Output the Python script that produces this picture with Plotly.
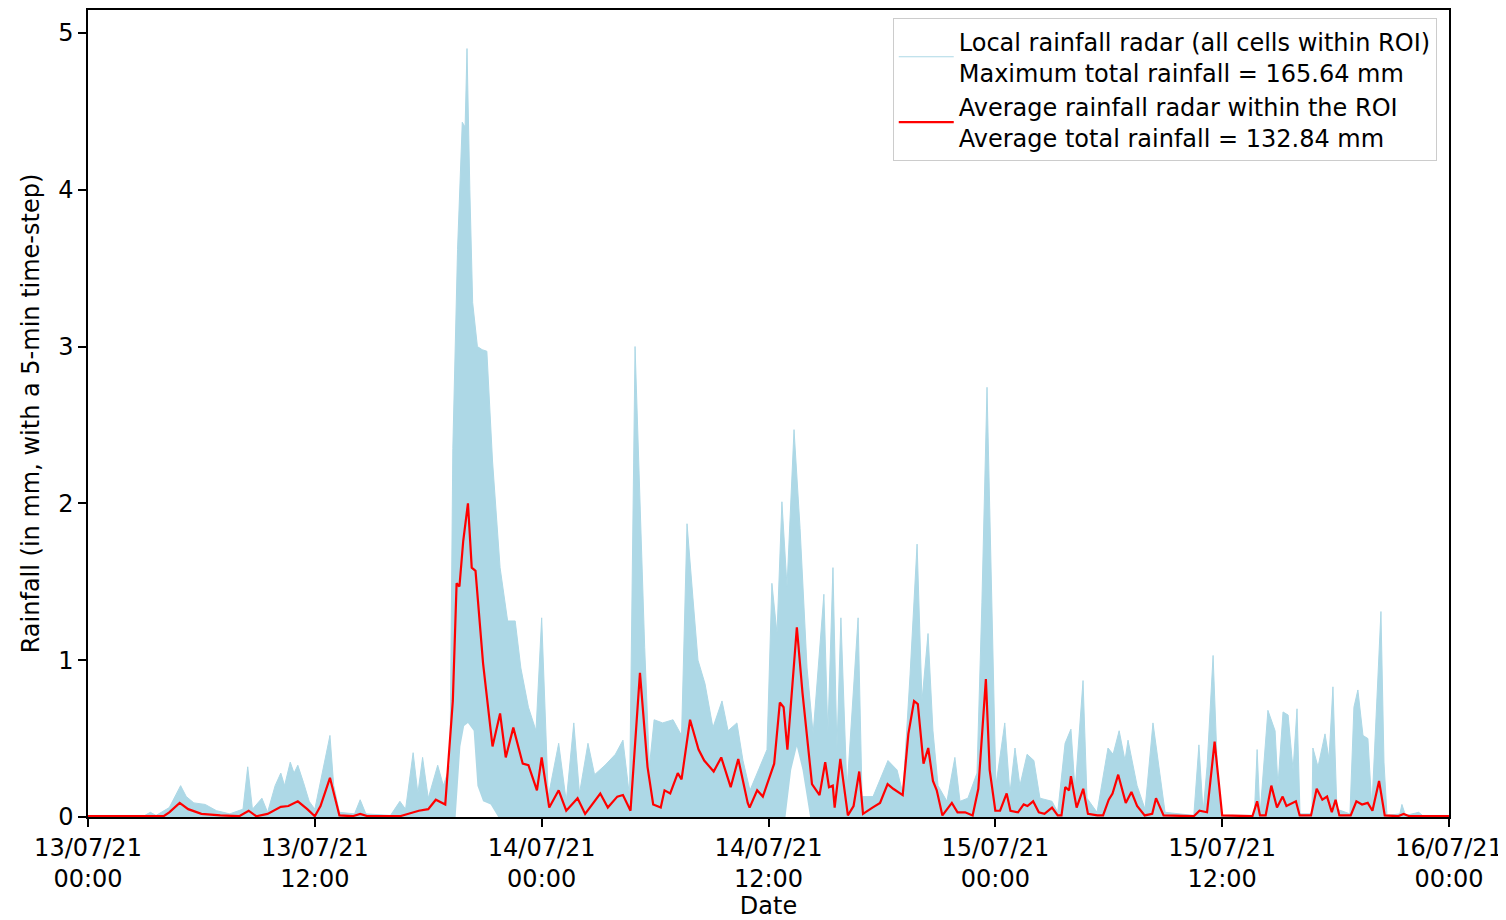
import pandas as pd
import plotly.graph_objects as go

# ---- data (hours after 13/07/21 00:00, rainfall mm per 5-min step) ----
max_hours = [0, 3.0, 3.3, 3.6, 4.3, 4.9, 5.2, 5.6, 6.2, 6.8, 7.5, 8.2, 8.45, 8.7, 9.2, 9.5,
             9.9, 10.2, 10.4, 10.7, 10.9, 11.1, 11.4, 11.7, 12.0, 12.3, 12.8, 13.0, 13.3,
             14.1, 14.4, 14.7, 16.0, 16.5, 16.8, 17.2, 17.45, 17.7, 18.0, 18.5, 18.8, 19.15,
             19.3, 19.55, 19.8, 19.95, 20.05, 20.2, 20.35, 20.6, 20.85, 21.1, 21.4, 21.8,
             22.2, 22.6, 22.9, 23.3, 23.7, 24.0, 24.35, 24.9, 25.3, 25.7, 26.0, 26.45, 26.8,
             27.35, 27.9, 28.3, 28.65, 28.94, 29.2, 29.45, 29.7, 29.95, 30.4, 30.95, 31.4,
             31.69, 32.0, 32.27, 32.64, 33.06, 33.54, 33.86, 34.33, 34.65, 35.02, 35.45,
             35.92, 36.18, 36.45, 36.71, 36.98, 37.35, 37.67, 38.04, 38.36, 38.93, 39.14,
             39.41, 39.62, 39.83, 40.15, 40.74, 40.95, 41.53, 42.32, 42.8, 43.11, 43.49,
             43.86, 44.12, 44.44, 44.7, 44.97, 45.44, 45.86, 46.13, 46.55, 47.03, 47.29,
             47.56, 47.82, 48.03, 48.5, 48.77, 49.04, 49.3, 49.68, 50.04, 50.36, 51.0, 51.3,
             51.69, 52.0, 52.22, 52.64, 52.85, 53.38, 53.96, 54.23, 54.55, 54.86, 55.02,
             55.5, 55.92, 56.34, 56.71, 56.98, 58.5, 58.77, 58.99, 59.2, 59.52, 59.78, 60.0,
             61.7, 61.85, 62.0, 62.42, 62.8, 62.95, 63.22, 63.49, 63.75, 63.96, 64.12, 64.75,
             64.8, 65.07, 65.44, 65.65, 65.86, 66.07, 66.76, 66.97, 67.18, 67.45, 67.71,
             67.92, 68.14, 68.4, 68.56, 68.72, 69.4, 69.51, 69.7, 70.4, 70.6, 72.0]
max_mm = [0.01, 0.01, 0.03, 0.01, 0.06, 0.2, 0.13, 0.09, 0.08, 0.04, 0.02, 0.05, 0.32, 0.05, 0.12, 0.03,
          0.2, 0.28, 0.2, 0.35, 0.28, 0.33, 0.22, 0.1, 0.05, 0.22, 0.52, 0.2, 0.03,
          0.02, 0.11, 0.02, 0.01, 0.1, 0.05, 0.41, 0.15, 0.38, 0.12, 0.33, 0.2, 0.33,
          2.35, 3.62, 4.43, 4.4, 4.9, 4.0, 3.28, 3.0, 2.98, 2.97, 2.27, 1.59,
          1.25, 1.25, 0.95, 0.7, 0.55, 1.27, 0.13, 0.47, 0.1, 0.6, 0.15, 0.47, 0.27,
          0.33, 0.4, 0.49, 0.13, 3.0, 2.0, 1.08, 0.32, 0.62, 0.6, 0.62, 0.52,
          1.87, 1.4, 1.0, 0.85, 0.57, 0.74, 0.55, 0.6, 0.36, 0.17, 0.3,
          0.43, 1.49, 1.17, 2.01, 1.47, 2.47, 1.84, 0.95, 0.53, 1.42, 0.53,
          1.59, 0.43, 1.27, 0.17, 1.27, 0.13, 0.13, 0.36, 0.3, 0.15, 0.91,
          1.74, 0.74, 1.17, 0.55, 0.2, 0.1, 0.38, 0.1, 0.12, 0.28, 1.37,
          2.74, 1.37, 0.2, 0.6, 0.15, 0.44, 0.2, 0.4, 0.36, 0.12, 0.1, 0.03,
          0.47, 0.56, 0.17, 0.87, 0.12, 0.03, 0.44, 0.4, 0.55, 0.36, 0.49,
          0.2, 0.05, 0.6, 0.27, 0.03, 0.01, 0.46, 0.03, 0.32, 1.03, 0.2, 0.01,
          0.01, 0.43, 0.01, 0.68, 0.55, 0.2, 0.67, 0.65, 0.3, 0.69, 0.02, 0.02,
          0.44, 0.32, 0.53, 0.37, 0.83, 0.05, 0.02, 0.7, 0.81, 0.52, 0.5,
          0.06, 0.68, 1.31, 0.35, 0.01, 0.02, 0.08, 0.01, 0.03, 0.01, 0.01]

min_hours = [0, 19.45, 19.7, 19.9, 20.1, 20.4, 20.6, 20.9, 21.3, 21.7, 36.9, 37.2, 37.5, 37.8, 38.2, 72.0]
min_mm = [0, 0, 0.45, 0.58, 0.6, 0.55, 0.2, 0.1, 0.08, 0, 0, 0.3, 0.45, 0.3, 0, 0]

avg_hours = [0, 4.0, 4.3, 4.85, 5.3, 6.0, 7.0, 8.0, 8.5, 8.9, 9.5, 10.2, 10.6, 11.1, 11.6, 12.0,
             12.3, 12.8, 13.3, 14.0, 14.4, 14.8, 16.5, 17.0, 17.5, 18.0, 18.4, 18.9, 19.3,
             19.5, 19.65, 19.85, 20.1, 20.3, 20.5, 20.9, 21.4, 21.8, 22.1, 22.5, 23.0, 23.3,
             23.75, 24.0, 24.4, 24.9, 25.3, 25.9, 26.3, 27.1, 27.5, 28.0, 28.3, 28.7, 29.2,
             29.6, 29.9, 30.3, 30.5, 30.8, 31.2, 31.4, 31.85, 32.3, 32.6, 33.1, 33.5, 34.0,
             34.4, 34.9, 35.0, 35.4, 35.7, 35.9, 36.3, 36.6, 36.8, 37.0, 37.5, 37.8, 38.3,
             38.7, 39.0, 39.2, 39.4, 39.5, 39.8, 40.2, 40.5, 40.8, 41.0, 41.5, 41.9, 42.3,
             42.6, 43.1, 43.4, 43.7, 43.9, 44.2, 44.45, 44.7, 44.9, 45.2, 45.7, 46.0, 46.4,
             46.8, 47.1, 47.5, 47.7, 48.0, 48.25, 48.6, 48.8, 49.2, 49.5, 49.7, 50.0, 50.3,
             50.6, 51.0, 51.3, 51.5, 51.7, 51.9, 52.0, 52.3, 52.65, 52.9, 53.4, 53.7, 54.0,
             54.2, 54.5, 54.9, 55.2, 55.5, 55.9, 56.3, 56.5, 56.9, 58.5, 58.8, 59.2, 59.6,
             60.0, 61.6, 61.85, 62.0, 62.3, 62.6, 62.9, 63.2, 63.4, 63.9, 64.1, 64.7, 65.0,
             65.3, 65.55, 65.8, 66.0, 66.2, 66.8, 67.1, 67.4, 67.7, 67.95, 68.3, 68.6, 69.3,
             69.6, 69.9, 72.0]
avg_mm = [0.005, 0.005, 0.03, 0.09, 0.05, 0.02, 0.01, 0.005, 0.04, 0.005, 0.02, 0.065, 0.07, 0.10, 0.05, 0.005,
          0.07, 0.25, 0.01, 0.005, 0.02, 0.005, 0.005, 0.02, 0.04, 0.05, 0.11, 0.08, 0.74,
          1.49, 1.47, 1.76, 2.0, 1.59, 1.57, 0.98, 0.45, 0.66, 0.38, 0.57, 0.34, 0.33,
          0.17, 0.38, 0.06, 0.17, 0.04, 0.12, 0.02, 0.15, 0.06, 0.13, 0.14, 0.04, 0.92,
          0.32, 0.08, 0.06, 0.17, 0.15, 0.28, 0.24, 0.62, 0.43, 0.36, 0.29, 0.38, 0.19,
          0.37, 0.09, 0.06, 0.17, 0.13, 0.2, 0.34, 0.73, 0.70, 0.43, 1.21, 0.79, 0.21,
          0.14, 0.35, 0.19, 0.2, 0.06, 0.37, 0.01, 0.07, 0.29, 0.02, 0.06, 0.09, 0.21,
          0.18, 0.14, 0.53, 0.74, 0.72, 0.34, 0.44, 0.23, 0.17, 0.01, 0.09, 0.03, 0.03,
          0.01, 0.18, 0.88, 0.3, 0.04, 0.04, 0.15, 0.04, 0.03, 0.08, 0.07, 0.1, 0.03,
          0.02, 0.06, 0.01, 0.01, 0.19, 0.17, 0.26, 0.06, 0.18, 0.02, 0.01, 0.01, 0.11,
          0.15, 0.27, 0.09, 0.16, 0.07, 0.01, 0.02, 0.12, 0.01, 0.005, 0.04, 0.03, 0.48,
          0.01, 0.005, 0.1, 0.01, 0.01, 0.2, 0.06, 0.13, 0.07, 0.1, 0.01, 0.01, 0.18,
          0.11, 0.13, 0.03, 0.11, 0.01, 0.01, 0.1, 0.08, 0.09, 0.04, 0.23, 0.01, 0.005,
          0.02, 0.005, 0.005]

tick_hours = [0, 12, 24, 36, 48, 60, 72]
tick_labels = ["13/07/21<br>00:00", "13/07/21<br>12:00", "14/07/21<br>00:00", "14/07/21<br>12:00",
               "15/07/21<br>00:00", "15/07/21<br>12:00", "16/07/21<br>00:00"]

label_local = "Local rainfall radar (all cells within ROI)<br>Maximum total rainfall = 165.64 mm"
label_avg = "Average rainfall radar within the ROI<br>Average total rainfall = 132.84 mm"

# ---- build ----
base = pd.Timestamp("2021-07-13 00:00")
def to_time(hours):
    return [base + pd.Timedelta(hours=h) for h in hours]

BLUE = "#ADD8E6"
FONT = "DejaVu Sans"

fig = go.Figure()
# legend handle for the radar cells (thin line, as in the reference legend)
fig.add_trace(go.Scatter(x=[None], y=[None], mode="lines", fill="none",
                         line=dict(width=1.2, color=BLUE), name=label_local))
fig.add_trace(go.Scatter(x=to_time(min_hours), y=min_mm, mode="lines",
                         line=dict(width=0, color=BLUE), showlegend=False, hoverinfo="skip"))
fig.add_trace(go.Scatter(x=to_time(max_hours), y=max_mm, mode="lines",
                         line=dict(width=1, color=BLUE), fill="tonexty", fillcolor=BLUE,
                         showlegend=False))
fig.add_trace(go.Scatter(x=to_time(avg_hours), y=avg_mm, mode="lines", fill="none",
                         line=dict(width=2.2, color="#FF0000"), name=label_avg))

# the page body has an 8px default margin, so the figure is sized/offset to compensate
fig.update_layout(
    width=1498, height=912,
    margin=dict(l=80, r=57, t=0, b=103),
    paper_bgcolor="white", plot_bgcolor="white",
    font=dict(family=FONT, size=24, color="black"),
    showlegend=True,
    legend=dict(x=0.991, y=0.99, xanchor="right", yanchor="top", traceorder="normal",
                bgcolor="rgba(255,255,255,0.85)", bordercolor="#cccccc", borderwidth=1,
                font=dict(family=FONT, size=24, color="black"),
                itemwidth=55, tracegroupgap=2),
)
fig.update_xaxes(
    type="date",
    range=[base, base + pd.Timedelta(hours=72)],
    tickmode="array",
    tickvals=to_time(tick_hours), ticktext=tick_labels,
    ticks="outside", ticklen=8, tickwidth=1.5, tickcolor="black",
    showline=True, linecolor="black", linewidth=1.5, mirror=True,
    showgrid=False, zeroline=False,
    title=dict(text="Date", font=dict(family=FONT, size=24), standoff=2),
)
fig.update_yaxes(
    range=[0, 5.146],
    tickvals=[0, 1, 2, 3, 4, 5],
    ticks="outside", ticklen=8, tickwidth=1.5, tickcolor="black",
    showline=True, linecolor="black", linewidth=1.5, mirror=True,
    showgrid=False, zeroline=False,
    title=dict(text="Rainfall (in mm, with a 5-min time-step)", font=dict(family=FONT, size=24), standoff=12),
)

fig.write_html("out.html")
